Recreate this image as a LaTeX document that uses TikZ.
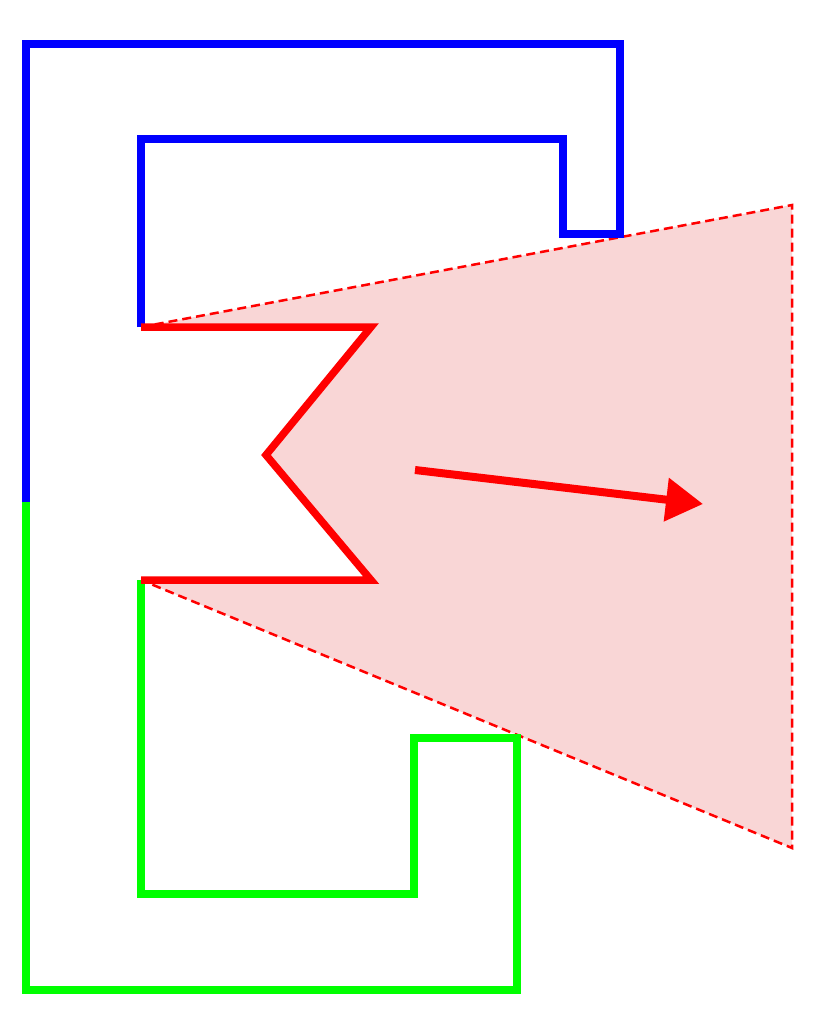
\documentclass[tikz,border=0pt]{standalone}
\usetikzlibrary{arrows.meta}
\definecolor{pinkfill}{HTML}{F9D6D6}
\definecolor{pureblue}{HTML}{0000FF}
\definecolor{puregreen}{HTML}{00FF00}
\definecolor{purered}{HTML}{FF0000}
\tikzset{
  blueline/.style={draw=pureblue, line width=7.5pt, line join=miter},
  greenline/.style={draw=puregreen, line width=7.5pt, line join=miter},
  zigline/.style={draw=purered, line width=7.5pt, line join=miter},
  wedge/.style={draw=purered, line width=2.5pt, dash pattern=on 9pt off 5pt},
  bigarrow/.style={draw=purered, line width=8pt, -{Triangle[length=37pt,width=42pt]}}
}
\begin{document}
\begin{tikzpicture}[x=1pt,y=-1pt]
\useasboundingbox (0,0) rectangle (830,1026);
% points
\coordinate (A) at (141,327);
\coordinate (B) at (792,205);
\coordinate (C) at (792,848);
\coordinate (D) at (141,580);
\coordinate (Z1) at (371,327);
\coordinate (Z2) at (266,455);
\coordinate (Z3) at (371,580);
% shaded wedge (outside the notch)
\fill[pinkfill] (A) -- (B) -- (C) -- (D) -- (Z3) -- (Z2) -- (Z1) -- cycle;
\draw[wedge] (A) -- (B) -- (C) -- (D);
% blue contour
\draw[blueline] (A) -- (141,139) -- (563,139) -- (563,234) -- (620,234) -- (620,44) -- (26,44) -- (26,502);
% green contour
\draw[greenline] (26,502) -- (26,990) -- (517,990) -- (517,738) -- (414,738) -- (414,894) -- (141,894) -- (D);
% red zigzag
\draw[zigline] (A) -- (Z1) -- (Z2) -- (Z3) -- (D);
% arrow
\coordinate (S) at (415,470);
\coordinate (T) at (703,504);
\draw[bigarrow] (S) -- (T);
\end{tikzpicture}
\end{document}
